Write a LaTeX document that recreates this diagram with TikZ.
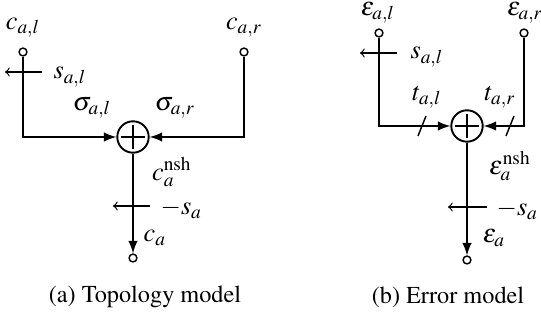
\documentclass[tikz,border=0pt]{standalone}
\usepackage[T1]{fontenc}
\usepackage{mathptmx}

\tikzset{
	term/.style={circle,draw,line width=0.6pt,fill=white,inner sep=0pt,minimum size=3.3pt},
	sumnode/.style={circle,draw,thick,fill=white,inner sep=0pt,minimum size=13.2pt,
		path picture={\draw[thick] (path picture bounding box.center) +(-5pt,0) -- +(5pt,0) +(0,-5pt) -- +(0,5pt);}},
	sel/.style={->,line width=0.5pt},
	lbl/.style={inner sep=0.5pt,font=\fontsize{11pt}{13pt}\selectfont},
}

\begin{document}
\begin{tikzpicture}[x=0.42pt,y=-0.42pt,font=\fontsize{10.2pt}{12pt}\selectfont]
	\useasboundingbox (0,0) rectangle (541,322);

	% (a) topology model
	\node[term] (cl) at (23,52) {};
	\node[term] (cr) at (244,52) {};
	\node[lbl] (clLbl) at (23,28) {$c_{a,l}$};
	\node[lbl] (crLbl) at (244,28) {$c_{a,r}$};
	\node[sumnode] (sumA) at (133,137) {};
	\coordinate (clBend) at (23,137);
	\coordinate (crBend) at (244,137);
	\draw[thick,-latex] (cl) -- (clBend) -- (sumA);
	\draw[thick,-latex] (cr) -- (crBend) -- (sumA);
	\node[term] (ca) at (133,258) {};
	\draw[thick,-latex] (sumA) -- (ca.north);

	% selections
	\coordinate (slA1) at (42,72);
	\coordinate (slA2) at (5,72);
	\draw[sel] (slA1) -- (slA2);
	\coordinate (saA1) at (150,206);
	\coordinate (saA2) at (113,206);
	\draw[sel] (saA1) -- (saA2);

	\node[lbl] (slALbl) at (70,77) {$s_{a,l}$};
	\node[lbl] (sigl) at (92,108) {$\sigma_{a,l}$};
	\node[lbl] (sigr) at (175,108) {$\sigma_{a,r}$};
	\node[lbl] (cnsh) at (172,172) {$c_a^{\mathrm{nsh}}$};
	\node[lbl,anchor=west] (saALbl) at (159,209) {$-s_a$};
	\node[lbl] (caLbl) at (155,238) {$c_a$};
	\node (capA) at (145,297) {(a) Topology model};

	% (b) error model
	\node[term] (el) at (379,33) {};
	\node[term] (er) at (524,33) {};
	\node[lbl] (elLbl) at (378,13) {$\varepsilon_{a,l}$};
	\node[lbl] (erLbl) at (525,13) {$\varepsilon_{a,r}$};
	\node[sumnode] (sumB) at (467,126) {};
	\coordinate (elBend) at (379,126);
	\coordinate (erBend) at (524,126);
	\draw[thick,-latex] (el) -- (elBend) -- (sumB);
	\draw[thick,-latex] (er) -- (erBend) -- (sumB);
	\node[term] (ea) at (467,260) {};
	\draw[thick,-latex] (sumB) -- (ea.north);

	% slash marks on the inputs
	\draw[line width=0.6pt] (418,136) -- (426,116);
	\draw[line width=0.6pt] (506,136) -- (514,116);

	% selections
	\coordinate (slB1) at (397,53);
	\coordinate (slB2) at (360,53);
	\draw[sel] (slB1) -- (slB2);
	\coordinate (saB1) at (487,207);
	\coordinate (saB2) at (448,207);
	\draw[sel] (saB1) -- (saB2);

	\node[lbl] (slBLbl) at (427,57) {$s_{a,l}$};
	\node[lbl] (tl) at (427,97) {$t_{a,l}$};
	\node[lbl] (tr) at (500,97) {$t_{a,r}$};
	\node[lbl] (ensh) at (510,166) {$\varepsilon_a^{\mathrm{nsh}}$};
	\node[lbl,anchor=west] (saBLbl) at (495,210) {$-s_a$};
	\node[lbl] (eaLbl) at (494,238) {$\varepsilon_a$};
	\node (capB) at (448,297) {(b) Error model};
\end{tikzpicture}
\end{document}
